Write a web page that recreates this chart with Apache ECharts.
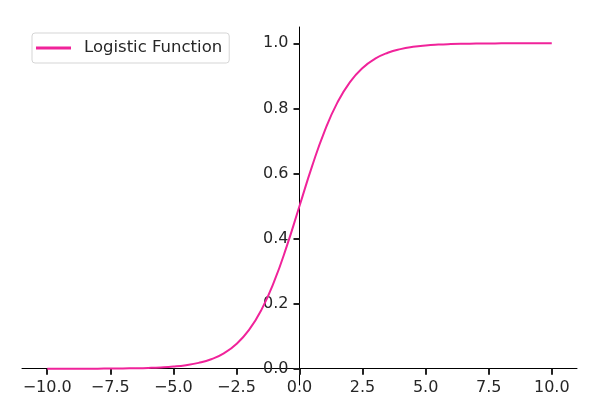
<!DOCTYPE html>
<html><head><meta charset="utf-8">
<script src="https://cdn.jsdelivr.net/npm/echarts@6/dist/echarts.min.js"></script>
<style>html,body{margin:0;padding:0;background:#fff}#c{width:614px;height:405px}</style>
</head><body><div id="c"></div>
<script>
const xValues = [-10,-9.5,-9,-8.5,-8,-7.5,-7,-6.5,-6,-5.5,-5,-4.5,-4,-3.5,-3,-2.5,-2,-1.5,-1,-0.5,0,0.5,1,1.5,2,2.5,3,3.5,4,4.5,5,5.5,6,6.5,7,7.5,8,8.5,9,9.5,10];
const yValues = [0.0000,0.0001,0.0001,0.0002,0.0003,0.0006,0.0009,0.0015,0.0025,0.0041,0.0067,0.0110,0.0180,0.0293,0.0474,0.0759,0.1192,0.1824,0.2689,0.3775,0.5000,0.6225,0.7311,0.8176,0.8808,0.9241,0.9526,0.9707,0.9820,0.9890,0.9933,0.9959,0.9975,0.9985,0.9991,0.9994,0.9997,0.9998,0.9999,0.9999,1.0000];
const xTicks = [-10,-7.5,-5,-2.5,0,2.5,5,7.5,10];
const yTicks = [0,0.2,0.4,0.6,0.8,1.0];
const seriesName = 'Logistic Function';

const fmt = v => (v < 0 ? '\u2212' : '') + Math.abs(v).toFixed(1);
const font = 'DejaVu Sans';
const GL = 22, GR = 37, GT = 27, GB = 20, H = 405;
const chart = echarts.init(document.getElementById('c'), null, {renderer:'canvas'});
const option = {
  animation:false,
  grid:{left:GL,right:GR,top:GT,bottom:GB,containLabel:false,outerBoundsMode:'none'},
  legend:{
    data:[{name:seriesName}],
    left:32, top:33, orient:'vertical',
    itemWidth:35, itemHeight:3, itemGap:0,
    padding:[6,7,6,4],
    borderColor:'#d5d5d5', borderWidth:1, borderRadius:3,
    textStyle:{fontFamily:font,fontSize:16.5,color:'#262626',lineHeight:18,padding:[0,0,0,8]},
    icon:'rect'
  },
  xAxis:{
    type:'value', min:-11, max:11, position:'bottom', offset:0,
    axisLine:{onZero:false,lineStyle:{color:'#000',width:1}},
    axisTick:{show:true,inside:false,length:6,customValues:xTicks,lineStyle:{color:'#222',width:2}},
    axisLabel:{customValues:xTicks,formatter:fmt,fontFamily:font,fontSize:16,color:'#262626',margin:11},
    splitLine:{show:false}
  },
  yAxis:{
    type:'value', min:-0.05, max:1.05, position:'left', offset:0,
    axisLine:{show:true,onZero:false,lineStyle:{color:'#000',width:1}},
    axisTick:{show:true,inside:false,length:6,customValues:yTicks,lineStyle:{color:'#222',width:2}},
    axisLabel:{customValues:yTicks,formatter:v=>v.toFixed(1),fontFamily:font,fontSize:16,color:'#262626',margin:11},
    splitLine:{show:false}
  },
  series:[{
    name:seriesName, type:'line', symbol:'none', smooth:true,
    data:xValues.map((x,i)=>[x,yValues[i]]),
    lineStyle:{color:'#f0239a',width:2},
    itemStyle:{color:'#f0239a'}
  }]
};
chart.setOption(option);
const x0 = chart.convertToPixel({xAxisIndex:0}, 0);
const y0 = chart.convertToPixel({yAxisIndex:0}, 0);
chart.setOption({
  xAxis:{offset: y0 - (H - GB)},
  yAxis:{offset: GL - x0}
});
</script></body></html>
